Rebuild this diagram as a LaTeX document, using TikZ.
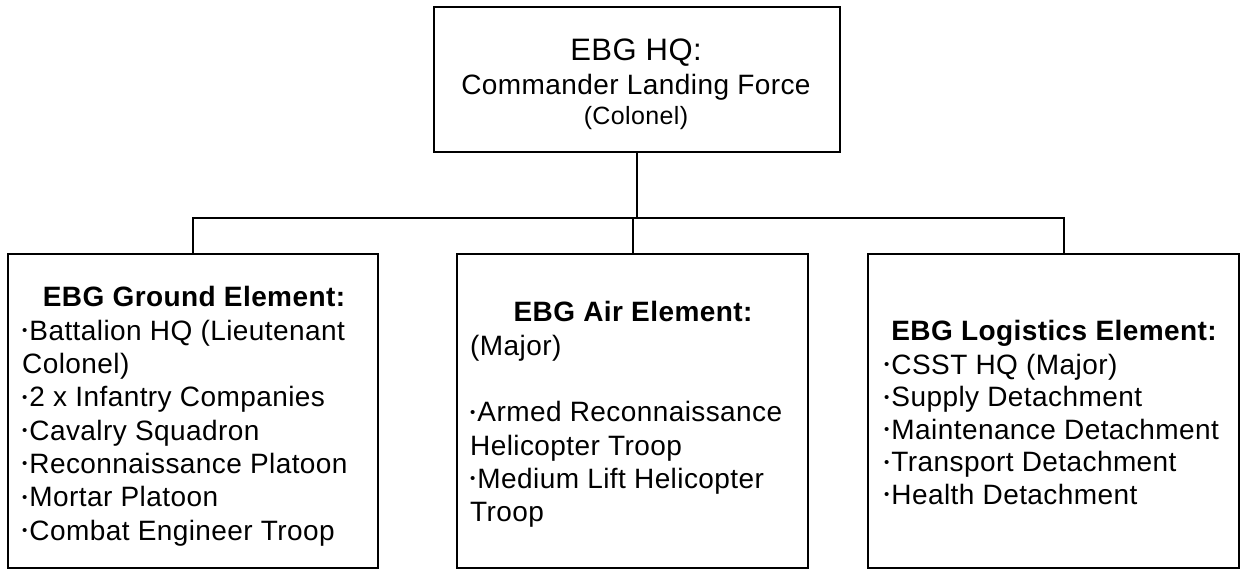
\documentclass[tikz,border=0pt]{standalone}
\usepackage{fontspec}
\setmainfont{Liberation Sans}[LetterSpace=1.5]
\newcommand\smbul{\raisebox{4.5pt}{\fontsize{15}{15}\selectfont •}\kern2pt}
\begin{document}
\begin{tikzpicture}[x=1pt,y=-1pt,
  box/.style={draw, line width=2.4pt, inner sep=0pt},
  conn/.style={draw, line width=2pt},
  head/.style={font=\fontsize{28}{33}\selectfont\bfseries, inner sep=0pt, anchor=base},
  item/.style={font=\fontsize{28}{33}\selectfont, inner sep=0pt, anchor=base west},
]
\useasboundingbox (0,0) rectangle (1241,570);
% boxes
\node[box, minimum width=406pt, minimum height=145pt] (top) at (637,79.5) {};
\node[box, minimum width=370pt, minimum height=314pt] (gnd) at (193,411) {};
\node[box, minimum width=351pt, minimum height=314pt] (air) at (632.5,411) {};
\node[box, minimum width=371pt, minimum height=314pt] (log) at (1053.5,411) {};
% connectors
\coordinate (bus) at (637,218);
\draw[conn] (top.south) -- (bus);
\draw[conn] (gnd.north) |- (bus) -| ([xshift=10pt]log.north);
\draw[conn] (air.north) -- (air.north |- bus);
% top text
\node[font=\fontsize{31}{36}\selectfont, inner sep=0pt, anchor=base] (hqt) at (636,60) {EBG HQ:};
\node[font=\fontsize{28}{33}\selectfont, inner sep=0pt, anchor=base] (hqc) at (636,94) {Commander Landing Force};
\node[font=\fontsize{25}{30}\selectfont, inner sep=0pt, anchor=base] (hqr) at (636,124) {(Colonel)};
% ground
\node[head] (gt) at (194,306) {EBG Ground Element:};
\node[item] (g1) at (22,340) {\smbul Battalion HQ (Lieutenant};
\node[item] (g2) at (22,373.3) {Colonel)};
\node[item] (g3) at (22,406.6) {\smbul 2 x Infantry Companies};
\node[item] (g4) at (22,440) {\smbul Cavalry Squadron};
\node[item] (g5) at (22,473.3) {\smbul Reconnaissance Platoon};
\node[item] (g6) at (22,506.6) {\smbul Mortar Platoon};
\node[item] (g7) at (22,540) {\smbul Combat Engineer Troop};
% air
\node[head] (at) at (633,321) {EBG Air Element:};
\node[item] (a1) at (470,355) {(Major)};
\node[item] (a2) at (470,421.6) {\smbul Armed Reconnaissance};
\node[item] (a3) at (470,455) {Helicopter Troop};
\node[item] (a4) at (470,488.3) {\smbul Medium Lift Helicopter};
\node[item] (a5) at (470,521.6) {Troop};
% logistics
\node[head] (lt) at (1054,340) {EBG Logistics Element:};
\node[item] (l1) at (884,374) {\smbul CSST HQ (Major)};
\node[item] (l2) at (884,406.5) {\smbul Supply Detachment};
\node[item] (l3) at (884,439) {\smbul Maintenance Detachment};
\node[item] (l4) at (884,471.5) {\smbul Transport Detachment};
\node[item] (l5) at (884,504) {\smbul Health Detachment};
\end{tikzpicture}
\end{document}
